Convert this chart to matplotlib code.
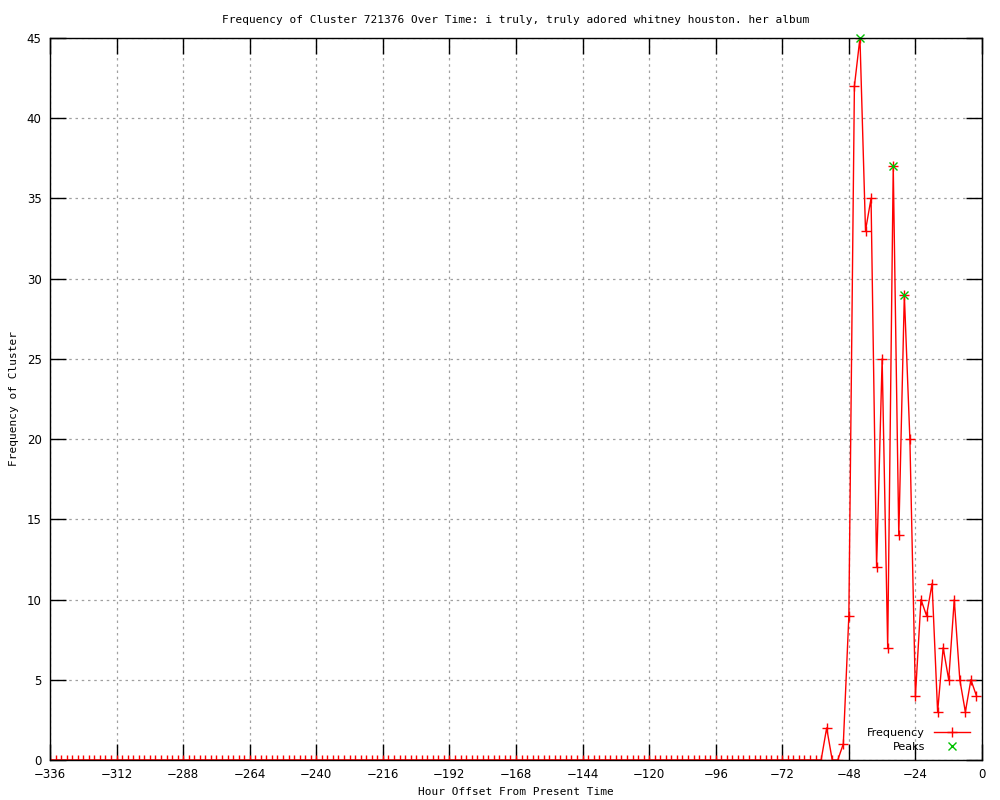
import numpy as np
import matplotlib
matplotlib.use("Agg")
import matplotlib.pyplot as plt

# Data: hour offsets (every 2 h) and frequencies
hours = list(range(-336, 0, 2))
tail_values = [
    2, 0, 0, 1,            # -56 .. -50
    9, 42, 45, 33, 35, 12, 25, 7, 37, 14, 29, 20,   # -48 .. -26
    4, 10, 9, 11, 3, 7, 5, 10, 5, 3, 5, 4,          # -24 .. -2
]
freq = [0] * (len(hours) - len(tail_values)) + tail_values

peak_hours = [-44, -32, -28]
peak_values = [45, 37, 29]

x_ticks = list(range(-336, 1, 24))
y_ticks = list(range(0, 46, 5))

title = "Frequency of Cluster 721376 Over Time: i truly, truly adored whitney houston. her album"
xlabel = "Hour Offset From Present Time"
ylabel = "Frequency of Cluster"

fig = plt.figure(figsize=(10, 8), dpi=100)
ax = fig.add_axes([0.05, 0.05, 0.932, 0.9025])

ax.plot(hours, freq, color="red", linewidth=1.0, marker="+", markersize=7,
        markeredgewidth=1.0, label="Frequency")
ax.plot(peak_hours, peak_values, linestyle="none", color="#00c000", marker="x",
        markersize=6, markeredgewidth=1.0, label="Peaks", clip_on=False)

ax.set_xlim(-336, 0)
ax.set_ylim(0, 45)
ax.set_xticks(x_ticks)
ax.set_yticks(y_ticks)
ax.tick_params(direction="in", length=11.5, width=1.0, top=True, right=True,
               labelsize=8.5, pad=6, colors="black")
ax.grid(True, color="#a0a0a0", linestyle=(0, (2, 3)), linewidth=0.9)
for s in ax.spines.values():
    s.set_linewidth(1.0)
    s.set_color("black")

mono = "DejaVu Sans Mono"
ax.set_title(title, fontsize=8, family=mono, pad=11)
ax.set_xlabel(xlabel, fontsize=8, family=mono)
ax.xaxis.set_label_coords(0.5, -0.038)
ax.set_ylabel(ylabel, fontsize=8, family=mono)
ax.yaxis.set_label_coords(-0.033, 0.5)

leg = ax.legend(loc="lower right", frameon=False, markerfirst=False,
                fontsize=8, handlelength=3.2, borderaxespad=0.3,
                labelspacing=0.35, handletextpad=0.8,
                bbox_to_anchor=(0.995, 0.0))
for t in leg.get_texts():
    t.set_ha("right")

fig.savefig("out.png", dpi=100)
